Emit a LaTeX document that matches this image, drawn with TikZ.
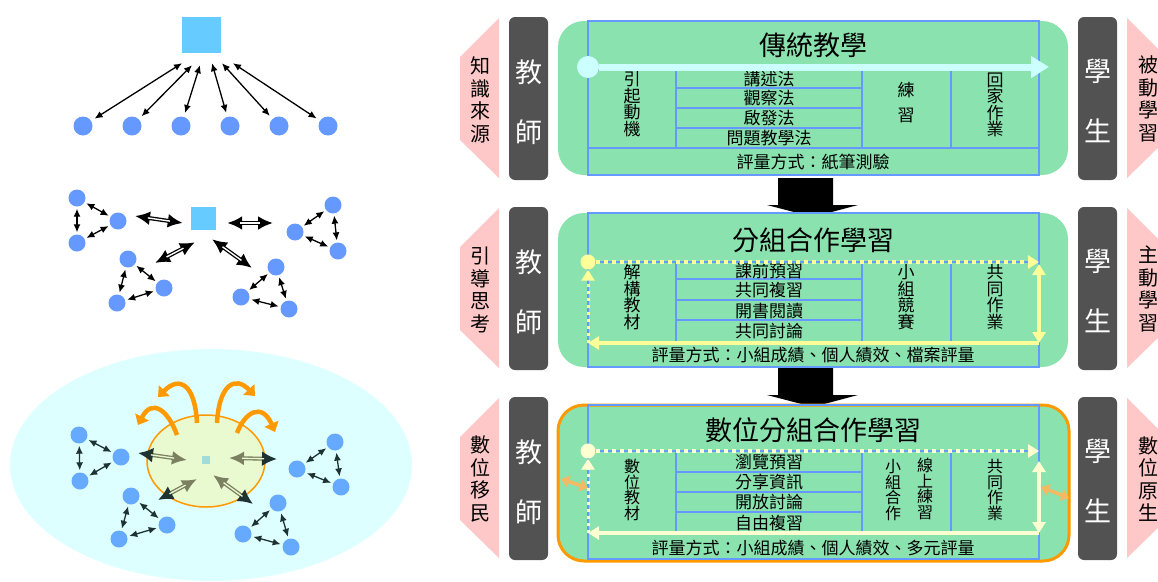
\documentclass[tikz,border=0pt]{standalone}
\usepackage{fontspec}
\newfontfamily\cjk{Noto Sans CJK TC}
\usetikzlibrary{arrows.meta,shapes.geometric}
\definecolor{pinkc}{RGB}{255,200,200}
\definecolor{grayc}{RGB}{82,82,82}
\definecolor{greenc}{RGB}{138,226,174}
\definecolor{gridc}{RGB}{102,153,255}
\definecolor{cyanc}{RGB}{204,255,255}
\definecolor{yelc}{RGB}{255,255,153}
\definecolor{creamc}{RGB}{255,255,210}
\definecolor{lorange}{RGB}{245,185,100}
\definecolor{orangec}{RGB}{255,153,0}
\definecolor{sqc}{RGB}{102,204,255}
\definecolor{dotc}{RGB}{102,153,255}
\definecolor{dotlc}{RGB}{102,170,255}
\definecolor{skyc}{RGB}{221,255,255}
\definecolor{corec}{RGB}{234,250,208}
\definecolor{olivec}{RGB}{122,128,96}
\definecolor{darkc}{RGB}{30,50,50}
\definecolor{tealc}{RGB}{160,220,220}
\newcommand\mytrio[6]{%
  \node[#5] (#1a) at (#2) {};
  \node[#5] (#1b) at (#3) {};
  \node[#5] (#1c) at (#4) {};
  \draw[#6] (#1a) -- (#1b);
  \draw[#6] (#1b) -- (#1c);
  \draw[#6] (#1c) -- (#1a);
}
\newcommand\mydbl[2]{%
  \draw[line width=4pt, {Latex[length=15pt,width=14pt]}-{Latex[length=15pt,width=14pt]}] (#1) -- (#2);
  \draw[white, line width=1.4pt, shorten <=13pt, shorten >=13pt] (#1) -- (#2);
}
\newcommand\myolive[2]{%
  \draw[olivec, line width=4pt, {Latex[length=15pt,width=15pt,color=darkc]}-{Latex[length=15pt,width=14pt]}] (#1) -- (#2);
  \draw[corec, line width=1.3pt, shorten <=13pt, shorten >=13pt] (#1) -- (#2);
}
\begin{document}
\begin{tikzpicture}[x=1pt,y=-1pt,
  pinkshape/.style={fill=pinkc},
  graybox/.style={fill=grayc, rounded corners=6pt},
  greenbox/.style={fill=greenc, rounded corners=26pt},
  gridline/.style={draw=gridc, line width=1.4pt},
  ttl/.style={font=\cjk\fontsize{27}{30}\selectfont, inner sep=0pt},
  item/.style={font=\cjk\fontsize{17}{18}\selectfont, inner sep=0pt},
  vcol/.style={font=\cjk\fontsize{17}{16.5}\selectfont, inner sep=0pt, align=center},
  vcolw/.style={font=\cjk\fontsize{17}{25}\selectfont, inner sep=0pt, align=center},
  vcols/.style={font=\cjk\fontsize{16}{15.5}\selectfont, inner sep=0pt, align=center},
  pinktxt/.style={font=\cjk\fontsize{20}{22.5}\selectfont, inner sep=0pt, align=center},
  graytxt/.style={font=\cjk\fontsize{27}{60}\selectfont, text=white, inner sep=0pt, align=center},
  sqbox/.style={fill=sqc, inner sep=0pt},
  dotA/.style={circle, fill=dotc, inner sep=0pt, minimum size=19pt},
  dotB/.style={circle, fill=dotc, inner sep=0pt, minimum size=17pt},
  dotC/.style={circle, fill=dotlc, inner sep=0pt, minimum size=17pt},
  biarr/.style={line width=1.3pt, {Latex[length=8pt,width=7pt]}-{Latex[length=8pt,width=7pt]}, shorten <=2pt, shorten >=2pt},
  biarrd/.style={biarr, draw=darkc, {Latex[length=8pt,width=7pt]}-{Latex[length=8pt,width=7pt]}},
  flowtip/.style={-{Triangle[length=11pt,width=13pt]}},
  smallbi/.style={lorange, line width=3.5pt, {Triangle[length=8pt,width=12pt]}-{Triangle[length=8pt,width=12pt]}},
]
\useasboundingbox (0,0) rectangle (1158,581);
\clip (0,0) rectangle (1158,581);
\fill[white] (0,0) rectangle (1158,581);

% ---------------- left diagram 1 ----------------
\node[sqbox, minimum width=39pt, minimum height=36pt] (sq1) at (201.5,35) {};
\foreach \i/\x/\dx/\dy in {1/83/-19.5/10, 2/132/-9.5/12, 3/181/-1.5/12, 4/230/10.5/10, 5/279/20.5/10, 6/328/31.5/10}{
  \node[dotA] (t\i) at (\x,126) {};
  \draw[biarr, shorten <=4pt, shorten >=0pt] (t\i) -- ([shift={(\dx,\dy)}]sq1.south);
}

% ---------------- left diagram 2 ----------------
\node[sqbox, minimum width=25pt, minimum height=23pt] (sq2) at (203.5,218.5) {};
\coordinate (s2A) at ([shift={(-8,4.5)}]sq2.west);
\coordinate (s2B) at ([shift={(11,4.5)}]sq2.east);
\coordinate (s2C) at ([shift={(-8.5,12)}]sq2.south);
\coordinate (s2D) at ([shift={(8.5,9)}]sq2.south);
\coordinate (g2A) at (135,216);
\coordinate (g2B) at (273,223);
\coordinate (g2C) at (155,263);
\coordinate (g2D) at (252,268);
\mydbl{s2A}{g2A}
\mydbl{s2B}{g2B}
\mydbl{s2C}{g2C}
\mydbl{s2D}{g2D}
\mytrio{a2}{77,198}{118,221}{77,243}{dotB}{biarr}
\mytrio{b2}{333,205}{295,232}{338,251}{dotB}{biarr}
\mytrio{c2}{128,259}{164,288}{117,303}{dotB}{biarr}
\mytrio{d2}{276,267}{241,297}{289,309}{dotB}{biarr}

% ---------------- left diagram 3 ----------------
\fill[skyc] (211,465) ellipse [x radius=201pt, y radius=116pt];
\node[ellipse, minimum width=118pt, minimum height=92pt, fill=corec, draw=orangec, line width=1.5pt, inner sep=0pt] (core) at (206,461) {};
\node[fill=tealc, minimum size=8pt, inner sep=0pt] (sq3) at (206,460) {};
\coordinate (i3A) at ([shift={(-19,0)}]sq3.center);
\coordinate (i3B) at ([shift={(23,-2)}]sq3.center);
\coordinate (i3C) at ([shift={(-9,19)}]sq3.center);
\coordinate (i3D) at ([shift={(7,15)}]sq3.center);
\coordinate (o3A) at (138,453);
\coordinate (o3B) at (277,459);
\coordinate (o3C) at (158,500);
\coordinate (o3D) at (253,504);
\myolive{o3A}{i3A}
\myolive{o3B}{i3B}
\myolive{o3C}{i3C}
\myolive{o3D}{i3D}
\coordinate (oc1s) at ([shift={(-29,-26)}]core.center);
\coordinate (oc2s) at ([shift={(-9,-38)}]core.center);
\coordinate (oc3s) at ([shift={(11,-38)}]core.center);
\coordinate (oc4s) at ([shift={(31,-28)}]core.center);
\coordinate (oc1e) at (138,425);
\coordinate (oc2e) at (158,397);
\coordinate (oc3e) at (255,396);
\coordinate (oc4e) at (275,432);
\begin{scope}[orangec, line width=4.5pt, -{Triangle[length=9pt,width=15pt]}]
\draw (oc1s) .. controls (168,410) and (152,398) .. (oc1e);
\draw (oc2s) .. controls (195,385) and (180,375) .. (oc2e);
\draw (oc3s) .. controls (219,385) and (235,375) .. (oc3e);
\draw (oc4s) .. controls (245,412) and (262,402) .. (oc4e);
\end{scope}
\mytrio{a3}{79,435}{121,457}{80,481}{dotC}{biarrd}
\mytrio{b3}{335,442}{297,469}{341,487}{dotC}{biarrd}
\mytrio{c3}{131,496}{167,525}{119,539}{dotC}{biarrd}
\mytrio{d3}{278,503}{243,534}{291,547}{dotC}{biarrd}

% ---------------- panel 1 ----------------
\fill[pinkshape] (499,18) -- (460,57) -- (460,140) -- (499,178) -- cycle;
\node[pinktxt] (p1L) at (480,100) {知\\識\\來\\源};
\fill[graybox] (509,17) rectangle (548,180);
\node[graytxt] (p1T) at (528.5,102) {教\\師};
\fill[graybox] (1078,17) rectangle (1117,180);
\node[graytxt] (p1S) at (1097.5,101) {學\\生};
\fill[pinkshape] (1127,18) -- (1166,57) -- (1166,140) -- (1127,178) -- cycle;
\node[pinktxt] (p1R) at (1148,99) {被\\動\\學\\習};
\fill[greenbox] (558,21) rectangle (1068,175);
\draw[gridline] (588,21) rectangle (1039,175);
\draw[gridline] (588,70) -- (1039,70) (588,148) -- (1039,148)
  (676,70) -- (676,148) (862,70) -- (862,148) (951,70) -- (951,148)
  (676,88) -- (862,88) (676,108) -- (862,108) (676,128) -- (862,128);
\node[ttl] (p1title) at (813,45) {傳統教學};
\node[item] (p1m1) at (769,79) {講述法};
\node[item] (p1m2) at (769,98.5) {觀察法};
\node[item] (p1m3) at (769,118) {啟發法};
\node[item] (p1m4) at (769,138) {問題教學法};
\node[vcol] (p1c1) at (632,104) {引\\起\\動\\機};
\node[vcolw] (p1c2) at (906,102.5) {練\\習};
\node[vcol] (p1c3) at (995,105) {回\\家\\作\\業};
\node[item] (p1eval) at (813,162) {評量方式：紙筆測驗};
\node[circle, fill=cyanc, minimum size=22pt, inner sep=0pt] (p1dot) at (588,67) {};
\coordinate (p1end) at (1049,67);
\draw[cyanc, line width=7pt, -{Triangle[length=18pt,width=21pt]}] (p1dot) -- (p1end);

% block arrows
\fill[black] (778,178) -- (833,178) -- (833,205) -- (858,205) -- (813,217) -- (767,205) -- (778,205) -- cycle;
\fill[black] (778,368) -- (833,368) -- (833,395) -- (858,395) -- (813,407) -- (767,395) -- (778,395) -- cycle;

% ---------------- panel 2 ----------------
\fill[pinkshape] (499,208) -- (460,247) -- (460,330) -- (499,368) -- cycle;
\node[pinktxt] (p2L) at (480,290) {引\\導\\思\\考};
\fill[graybox] (509,207) rectangle (548,370);
\node[graytxt] (p2T) at (528.5,292) {教\\師};
\fill[graybox] (1078,207) rectangle (1117,370);
\node[graytxt] (p2S) at (1097.5,291) {學\\生};
\fill[pinkshape] (1127,208) -- (1166,247) -- (1166,330) -- (1127,368) -- cycle;
\node[pinktxt] (p2R) at (1148,289) {主\\動\\學\\習};
\fill[greenbox] (558,213) rectangle (1068,367);
\draw[gridline] (588,213) rectangle (1039,367);
\draw[gridline] (588,262) -- (1039,262) (588,343) -- (1039,343)
  (676,262) -- (676,343) (862,262) -- (862,343) (951,262) -- (951,343)
  (676,279) -- (862,279) (676,300) -- (862,300) (676,320) -- (862,320);
\node[ttl] (p2title) at (813,240) {分組合作學習};
\node[item] (p2m1) at (769,271) {課前預習};
\node[item] (p2m2) at (769,290.5) {共同複習};
\node[item] (p2m3) at (769,311) {開書閱讀};
\node[item] (p2m4) at (769,331.5) {共同討論};
\node[vcol] (p2c1) at (632,297) {解\\構\\教\\材};
\node[vcol] (p2c2) at (906,297) {小\\組\\競\\賽};
\node[vcol] (p2c3) at (995,297) {共\\同\\作\\業};
\node[item] (p2eval) at (813,355) {評量方式：小組成績、個人績效、檔案評量};
\node[circle, fill=yelc, minimum size=15pt, inner sep=0pt] (p2dot) at (588,262) {};
\coordinate (p2end) at (1039,262);
\coordinate (p2bl) at (588,343);
\coordinate (p2br) at (1039,343);
\draw[yelc, line width=4pt, dash pattern=on 4pt off 4pt, flowtip] (p2dot) -- (p2end);
\draw[yelc, line width=3pt, dash pattern=on 3pt off 4pt, flowtip] (p2bl) -- (p2dot);
\draw[yelc, line width=4pt, flowtip] (p2br) -- (p2bl);
\draw[yelc, line width=3.5pt, {Triangle[length=11pt,width=13pt]}-{Triangle[length=11pt,width=13pt]}] ([yshift=-2pt]p2end) -- (p2br);

% ---------------- panel 3 ----------------
\fill[pinkshape] (499,398) -- (460,437) -- (460,520) -- (499,558) -- cycle;
\node[pinktxt] (p3L) at (480,479) {數\\位\\移\\民};
\fill[graybox] (509,397) rectangle (548,560);
\node[graytxt] (p3T) at (528.5,482) {教\\師};
\fill[graybox] (1078,397) rectangle (1117,560);
\node[graytxt] (p3S) at (1097.5,481) {學\\生};
\fill[pinkshape] (1127,398) -- (1166,437) -- (1166,520) -- (1127,558) -- cycle;
\node[pinktxt] (p3R) at (1148,479) {數\\位\\原\\生};
\draw[greenbox, fill=greenc, draw=orangec, line width=3pt] (558,405) rectangle (1069,561);
\draw[gridline] (588,405) rectangle (1039,559);
\draw[gridline] (588,451) -- (1039,451) (588,533) -- (1039,533)
  (676,451) -- (676,533) (862,451) -- (862,533) (951,451) -- (951,533)
  (676,472) -- (862,472) (676,492) -- (862,492) (676,512) -- (862,512);
\node[ttl] (p3title) at (813,430) {數位分組合作學習};
\node[item] (p3m1) at (769,462) {瀏覽預習};
\node[item] (p3m2) at (769,482.5) {分享資訊};
\node[item] (p3m3) at (769,502.5) {開放討論};
\node[item] (p3m4) at (769,523) {自由複習};
\node[vcols] (p3c1) at (632,490) {數\\位\\教\\材};
\node[vcols] (p3c2a) at (893,490) {小\\組\\合\\作};
\node[vcols] (p3c2b) at (925,489) {線\\上\\練\\習};
\node[vcols] (p3c3) at (995,490) {共\\同\\作\\業};
\node[item] (p3eval) at (813,548) {評量方式：小組成績、個人績效、多元評量};
\node[circle, fill=creamc, minimum size=15pt, inner sep=0pt] (p3dot) at (588,451) {};
\coordinate (p3end) at (1039,451);
\coordinate (p3bl) at (588,533);
\coordinate (p3br) at (1039,533);
\draw[creamc, line width=4pt, dash pattern=on 4pt off 4pt, flowtip] (p3dot) -- (p3end);
\draw[creamc, line width=3pt, dash pattern=on 3pt off 4pt, flowtip] (p3bl) -- (p3dot);
\draw[creamc, line width=4pt, flowtip] (p3br) -- (p3bl);
\draw[creamc, line width=3.5pt, {Triangle[length=11pt,width=13pt]}-{Triangle[length=11pt,width=13pt]}] ([yshift=-10pt]p3end) -- (p3br);
\coordinate (p3la) at (561,479);
\coordinate (p3lb) at (588,488);
\coordinate (p3ra) at (1041,487);
\coordinate (p3rb) at (1069,498);
\draw[smallbi] (p3la) -- (p3lb);
\draw[smallbi] (p3ra) -- (p3rb);
\end{tikzpicture}
\end{document}
